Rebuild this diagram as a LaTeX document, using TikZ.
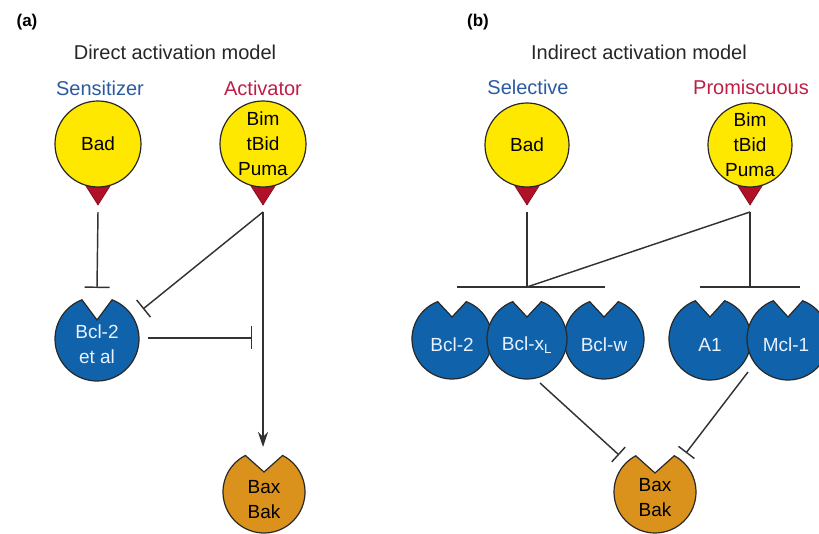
\documentclass[tikz,border=0pt]{standalone}
\usepackage{fontspec}
\setmainfont{Liberation Sans}
\usetikzlibrary{arrows.meta,calc}
\definecolor{yel}{RGB}{255,232,0}
\definecolor{bluec}{RGB}{16,98,170}
\definecolor{orng}{RGB}{218,146,28}
\definecolor{trired}{RGB}{176,16,40}
\definecolor{labblue}{RGB}{44,90,160}
\definecolor{labred}{RGB}{190,30,70}
\definecolor{outl}{RGB}{40,40,40}
\definecolor{conn}{RGB}{50,50,50}
\definecolor{lighttxt}{RGB}{232,242,255}
\newcommand\pacshape[6]{%
  \filldraw[fill=#6,draw=outl,line width=1.2pt] (#1,#2) ++({90-#4}:#3)
    arc[start angle={90-#4},end angle={-270+#4},radius=#3] -- (#1,#2+#5) -- cycle;}
\tikzset{
  ptitle/.style={font=\fontsize{20}{24}\selectfont, text=black!85},
  plabel/.style={font=\fontsize{17}{20}\selectfont\bfseries},
  catlab/.style={font=\fontsize{20}{24}\selectfont},
  yelc/.style={circle, minimum size=86pt, inner sep=0pt, fill=yel, draw=outl,
    line width=1.2pt, align=center, font=\fontsize{19}{25}\selectfont},
  intxt/.style={align=center, font=\fontsize{19}{25}\selectfont, inner sep=0pt},
  wtxt/.style={intxt, text=lighttxt},
  tri/.style={fill=trired, draw=trired!70!black, line width=0.6pt},
  cline/.style={draw=conn, line width=1.45pt},
  inhib/.style={cline, -{Bar[width=#1, line width=1.45pt]}},
  inhib/.default=22pt,
  activ/.style={cline, -{Stealth[length=15pt, width=10pt]}}
}
\begin{document}
\begin{tikzpicture}[x=1pt,y=1pt]
\useasboundingbox (0,0) rectangle (819,-534);
\clip (0,0) rectangle (819,-534);

% ---------------- panel (a) ----------------
\node[plabel] (pa) at (27,-22) {(a)};
\node[ptitle] (ta) at (175,-52) {Direct activation model};
\node[catlab, text=labblue] (sens) at (100,-88) {Sensitizer};
\node[catlab, text=labred] (actv) at (263,-88) {Activator};

\coordinate (badA) at (98,-144);
\coordinate (bimA) at (263,-144);
\filldraw[tri] ($(badA)+(-14,-39)$) -- ($(badA)+(14,-39)$) -- ($(badA)+(0,-61)$) -- cycle;
\filldraw[tri] ($(bimA)+(-14,-39)$) -- ($(bimA)+(14,-39)$) -- ($(bimA)+(0,-61)$) -- cycle;
\node[yelc] (badAn) at (badA) {Bad};
\node[yelc] (bimAn) at (bimA) {Bim\\tBid\\Puma};

\coordinate (bclAc) at (97,-339);
\pacshape{97}{-339}{42}{21}{19}{bluec}
\node[wtxt] (bclA) at ($(bclAc)+(0,-5)$) {Bcl-2\\et al};

\coordinate (baxAc) at (264,-492);
\pacshape{264}{-492}{41}{27}{20}{orng}
\node[intxt] (baxA) at ($(baxAc)+(0,-8)$) {Bax\\Bak};

\coordinate (badAtip) at ($(badA)+(0,-68)$);
\coordinate (bimAtip) at ($(bimA)+(0,-68)$);
\draw[inhib=25pt] (badAtip) -- ($(bclAc)+(0,51)$);
\draw[inhib=22pt] (bimAtip) -- ($(bclAc)+(46,30)$);
\draw[inhib=23pt] ($(bclAc)+(51,1)$) -- ($(bclAc)+(155,1)$);
\draw[activ] (bimAtip) -- ($(baxAc)+(-1,45)$);

% ---------------- panel (b) ----------------
\node[plabel] (pb) at (478,-22) {(b)};
\node[ptitle] (tb) at (639,-52) {Indirect activation model};
\node[catlab, text=labblue] (selc) at (528,-87) {Selective};
\node[catlab, text=labred] (prom) at (751,-87) {Promiscuous};

\coordinate (badB) at (527,-145);
\coordinate (bimB) at (750,-145);
\filldraw[tri] ($(badB)+(-14,-38)$) -- ($(badB)+(14,-38)$) -- ($(badB)+(0,-60)$) -- cycle;
\filldraw[tri] ($(bimB)+(-14,-38)$) -- ($(bimB)+(14,-38)$) -- ($(bimB)+(0,-60)$) -- cycle;
\node[yelc, minimum size=84pt] (badBn) at (badB) {Bad};
\node[yelc, minimum size=84pt] (bimBn) at (bimB) {Bim\\tBid\\Puma};

% blue pro-survival proteins
\pacshape{452}{-339}{40}{21}{22}{bluec}
\pacshape{604}{-339}{40}{21}{22}{bluec}
\pacshape{527}{-339}{40}{21}{22}{bluec}
\pacshape{710}{-339}{41}{21}{22}{bluec}
\pacshape{788}{-339}{41}{21}{22}{bluec}
\node[wtxt] (bcl2B) at (452,-345) {Bcl-2};
\node[wtxt] (bclxB) at (527,-345) {Bcl-x\textsubscript{L}};
\node[wtxt] (bclwB) at (604,-345) {Bcl-w};
\node[wtxt] (a1B) at (710,-345) {A1};
\node[wtxt] (mcl1B) at (786,-345) {Mcl-1};

\coordinate (baxBc) at (655,-492);
\pacshape{655}{-492}{41}{28}{19}{orng}
\node[intxt] (baxB) at ($(baxBc)+(0,-6)$) {Bax\\Bak};

\coordinate (badBtip) at ($(badB)+(0,-67)$);
\coordinate (bimBtip) at ($(bimB)+(0,-67)$);
\coordinate (barL) at (527,-287);
\coordinate (barR) at (750,-287);
\draw[cline] (badBtip) -- (barL);
\draw[cline] (bimBtip) -- (barR);
\draw[cline] (bimBtip) -- (barL);
\draw[cline] ($(barL)+(-70,0)$) -- ($(barL)+(78,0)$);
\draw[cline] ($(barR)+(-50,0)$) -- ($(barR)+(50,0)$);

\draw[inhib=20pt] ($(bclxB)+(13,-38)$) -- ($(baxBc)+(-36,37)$);
\draw[inhib=20pt] ($(mcl1B)+(-38,-27)$) -- ($(baxBc)+(31,39)$);
\end{tikzpicture}
\end{document}
